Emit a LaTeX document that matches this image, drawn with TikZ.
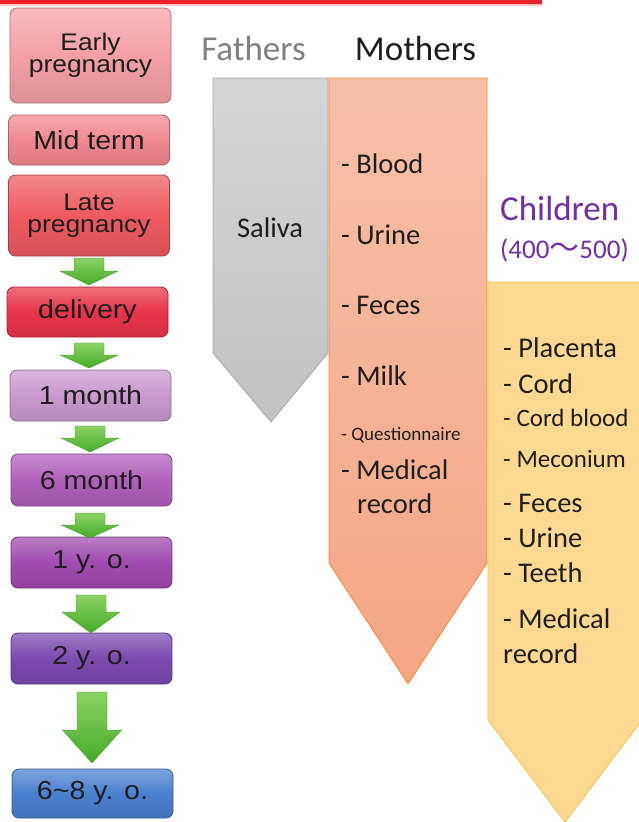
\documentclass[tikz,border=0pt]{standalone}
\usepackage{fontspec}
\setmainfont{Carlito}
\newfontfamily\arialf[FakeStretch=1.1]{Liberation Sans}
\newfontfamily\cjkf{Noto Sans CJK SC}
\definecolor{cEarly}{HTML}{F4A0A6}
\definecolor{cMid}{HTML}{F08890}
\definecolor{cLate}{HTML}{EE5A60}
\definecolor{cDeliv}{HTML}{E8344A}
\definecolor{cOneM}{HTML}{C89ACC}
\definecolor{cSixM}{HTML}{B060BA}
\definecolor{cOneY}{HTML}{A04AB0}
\definecolor{cTwoY}{HTML}{7A4AB0}
\definecolor{cSixY}{HTML}{4A80D0}
\definecolor{gLight}{HTML}{8CD266}
\definecolor{gDark}{HTML}{44AC26}
\definecolor{redbar}{HTML}{EE2028}
\definecolor{fathFillT}{HTML}{D4D4D4}
\definecolor{fathFillB}{HTML}{C2C2C2}
\definecolor{fathLine}{HTML}{A6A6A6}
\definecolor{mothFillT}{HTML}{F7C0A6}
\definecolor{mothFillB}{HTML}{F5A684}
\definecolor{mothLine}{HTML}{EE8A3C}
\definecolor{chilFill}{HTML}{FFD992}
\definecolor{chilLine}{HTML}{F4C044}
\definecolor{childPurple}{HTML}{7030A0}
\definecolor{txt}{HTML}{1E1E1E}
\newcommand\garr[6]{\path[garrowstyle] (#1-#5,#2) -- (#1+#5,#2) -- (#1+#5,#3) -- (#1+#6,#3) -- (#1,#4) -- (#1-#6,#3) -- (#1-#5,#3) -- cycle;}
\begin{document}
\begin{tikzpicture}[x=1pt,y=-1pt,
  stage/.style={rounded corners=7pt, draw=#1!70!black, line width=0.8pt,
    top color=#1!72!white, bottom color=#1!90!black, middle color=#1,
    inner sep=0pt, minimum width=161pt, text=txt, align=center,
    font=\arialf\fontsize{26}{26}\selectfont},
  stage2/.style={stage=#1, font=\arialf\fontsize{24}{22.5}\selectfont},
  garrowstyle/.style={top color=gLight, bottom color=gDark, draw=gDark!85!black, line width=0.3pt},
  item/.style={anchor=base west, inner sep=0pt, text=txt, font=\fontsize{28.5}{30}\selectfont},
  smallitem/.style={item, font=\fontsize{25}{27}\selectfont},
  head/.style={anchor=base, inner sep=0pt, font=\fontsize{35}{36}\selectfont}]
\useasboundingbox (0,0) rectangle (638,822);
\fill[white] (0,0) rectangle (638,822);
% top red bar
\fill[redbar] (0,0) rectangle (542,4);
\fill[redbar!25] (0,4) rectangle (542,5.5);

% left stages
\node[stage2=cEarly, minimum height=95pt] (early) at (90.5,55.5) {Early\\pregnancy};
\node[stage=cMid, minimum height=50pt] (mid) at (89,140) {Mid term};
\node[stage2=cLate, minimum height=81pt] (late) at (89,215.5) {Late\\pregnancy};
\node[stage=cDeliv, minimum height=50pt] (deliv) at (87.5,312) {delivery};
\node[stage=cOneM, minimum height=51pt] (onem) at (90.5,395.5) {1 month};
\node[stage=cSixM, minimum height=52pt] (sixm) at (91.5,480) {6 month};
\node[stage=cOneY, minimum height=51pt] (oney) at (91.5,562.5) {1 y. o.};
\node[stage=cTwoY, minimum height=51pt] (twoy) at (91.5,658.5) {2 y. o.};
\node[stage=cSixY, minimum height=49pt] (sixy) at (92.5,793.5) {6\char`\~8 y. o.};

% green arrows
\garr{89}{258}{271}{285}{15}{29}
\garr{89}{343}{355}{368}{15}{29}
\garr{90}{426}{438}{452}{15}{29}
\garr{90}{513}{525}{538}{15}{29}
\garr{91}{595}{612}{633}{15}{29}
\garr{92}{692}{730}{763}{15}{29.5}

% Fathers / Mothers / Children shapes
\path[draw=fathLine, line width=0.8pt, top color=fathFillT, bottom color=fathFillB]
  (213,78) -- (328,78) -- (328,353) -- (271,422) -- (213,353) -- cycle;
\path[draw=mothLine, line width=0.8pt, top color=mothFillT, bottom color=mothFillB]
  (329,78) -- (487,78) -- (487,563) -- (408,684) -- (329,563) -- cycle;
\path[draw=chilLine, line width=0.8pt, fill=chilFill]
  (488,282) -- (642,282) -- (642,720) -- (565,822) -- (488,720) -- cycle;

% headings
\node[head, text=black!50] (fath) at (253.5,60) {Fathers};
\node[head, text=txt] (moth) at (415.5,60) {Mothers};
\node[head, anchor=base west, text=childPurple] (chil) at (500,220) {Children};
\node[anchor=base west, inner sep=0pt, text=childPurple, font=\fontsize{27}{28}\selectfont] (cnum) at (500,258) {(400{\cjkf\fontsize{30}{30}\selectfont ～}500)};

% fathers
\node[item, anchor=base] (saliva) at (270,237) {Saliva};

% mothers
\node[item] (mb) at (341,173) {- Blood};
\node[item] (mu) at (341,244) {- Urine};
\node[item] (mf) at (341,314) {- Feces};
\node[item] (mm) at (341,385) {- Milk};
\node[item, font=\fontsize{19}{20}\selectfont] (mq) at (341,440) {- Questionnaire};
\node[item] (mr1) at (341,479) {- Medical};
\node[item] (mr2) at (357,513) {record};

% children
\node[item] (cp) at (503,357) {- Placenta};
\node[item] (cc) at (503,393) {- Cord};
\node[smallitem] (ccb) at (503,426) {- Cord blood};
\node[smallitem] (cm) at (503,467) {- Meconium};
\node[item] (cf) at (503,512) {- Feces};
\node[item] (cu) at (503,547) {- Urine};
\node[item] (ct) at (503,582) {- Teeth};
\node[item] (cr1) at (503,628) {- Medical};
\node[item] (cr2) at (503,663) {record};
\end{tikzpicture}
\end{document}
